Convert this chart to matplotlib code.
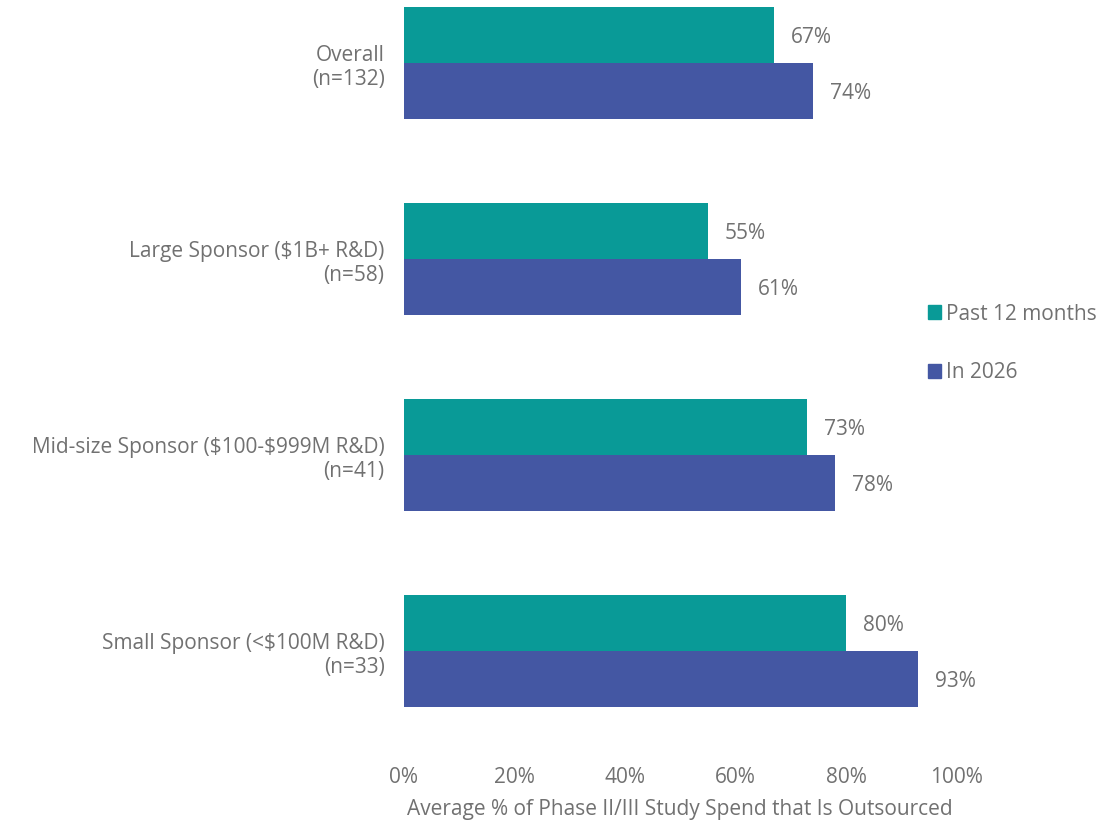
'''Average share of Phase II/III study spend that is outsourced, by sponsor size'''
import matplotlib.pyplot as plt
import numpy as np
from matplotlib.patches import Patch

categories = ['Overall\n(n=132)',
              'Large Sponsor (\\$1B+ R&D)\n(n=58)',
              'Mid-size Sponsor (\\$100-\\$999M R&D)\n(n=41)',
              'Small Sponsor (<\\$100M R&D)\n(n=33)']
past_12_months = [67, 55, 73, 80]
in_2026 = [74, 61, 78, 93]
series_names = ['Past 12 months', 'In 2026']
ticks = [0, 20, 40, 60, 80, 100]

TEAL = '#099a97'
BLUE = '#4457a3'
GREY = '#717171'

plt.rcParams['font.family'] = ['Open Sans', 'DejaVu Sans']
plt.rcParams['font.size'] = 15


def plot_chart():
    '''Draw grouped horizontal bars with value labels'''
    fig = plt.figure(figsize=(11.12, 8.22), dpi=100)
    ax = fig.add_axes([0.3633, 1 - 749 / 822, 0.4969, 749 / 822])
    pos = np.arange(len(categories))
    h = 0.285
    bars1 = ax.barh(pos - h / 2, past_12_months, height=h, color=TEAL)
    bars2 = ax.barh(pos + h / 2, in_2026, height=h, color=BLUE)
    for bars, vals in ((bars1, past_12_months), (bars2, in_2026)):
        for bar, v in zip(bars, vals):
            ax.annotate(f'{v}%', (v, bar.get_y() + bar.get_height() / 2),
                        xytext=(12, -2), textcoords='offset points',
                        va='center', ha='left', color=GREY, fontsize=15)
    ax.set_xlim(0, 100)
    ax.set_ylim(3.5, -63 / 196)
    ax.set_yticks(pos)
    ax.set_yticklabels(categories, color=GREY, fontsize=15, ha='right',
                       linespacing=1.2)
    ax.set_xticks(ticks)
    ax.set_xticklabels([f'{t}%' for t in ticks], color=GREY, fontsize=15)
    ax.tick_params(axis='both', length=0)
    ax.tick_params(axis='x', pad=13)
    ax.tick_params(axis='y', pad=14)
    ax.set_xlabel('Average % of Phase II/III Study Spend that Is Outsourced',
                  color=GREY, fontsize=15, labelpad=8)
    for s in ax.spines.values():
        s.set_visible(False)
    handles = [Patch(color=TEAL), Patch(color=BLUE)]
    leg = fig.legend(handles, series_names, loc='upper left',
                     bbox_to_anchor=(909 / 1112, 1 - 285 / 822),
                     frameon=False, handlelength=0.65, handleheight=0.65,
                     handletextpad=0.22, labelspacing=1.8, fontsize=15)
    for t in leg.get_texts():
        t.set_color(GREY)
    fig.savefig('out.png', dpi=100)


plot_chart()
